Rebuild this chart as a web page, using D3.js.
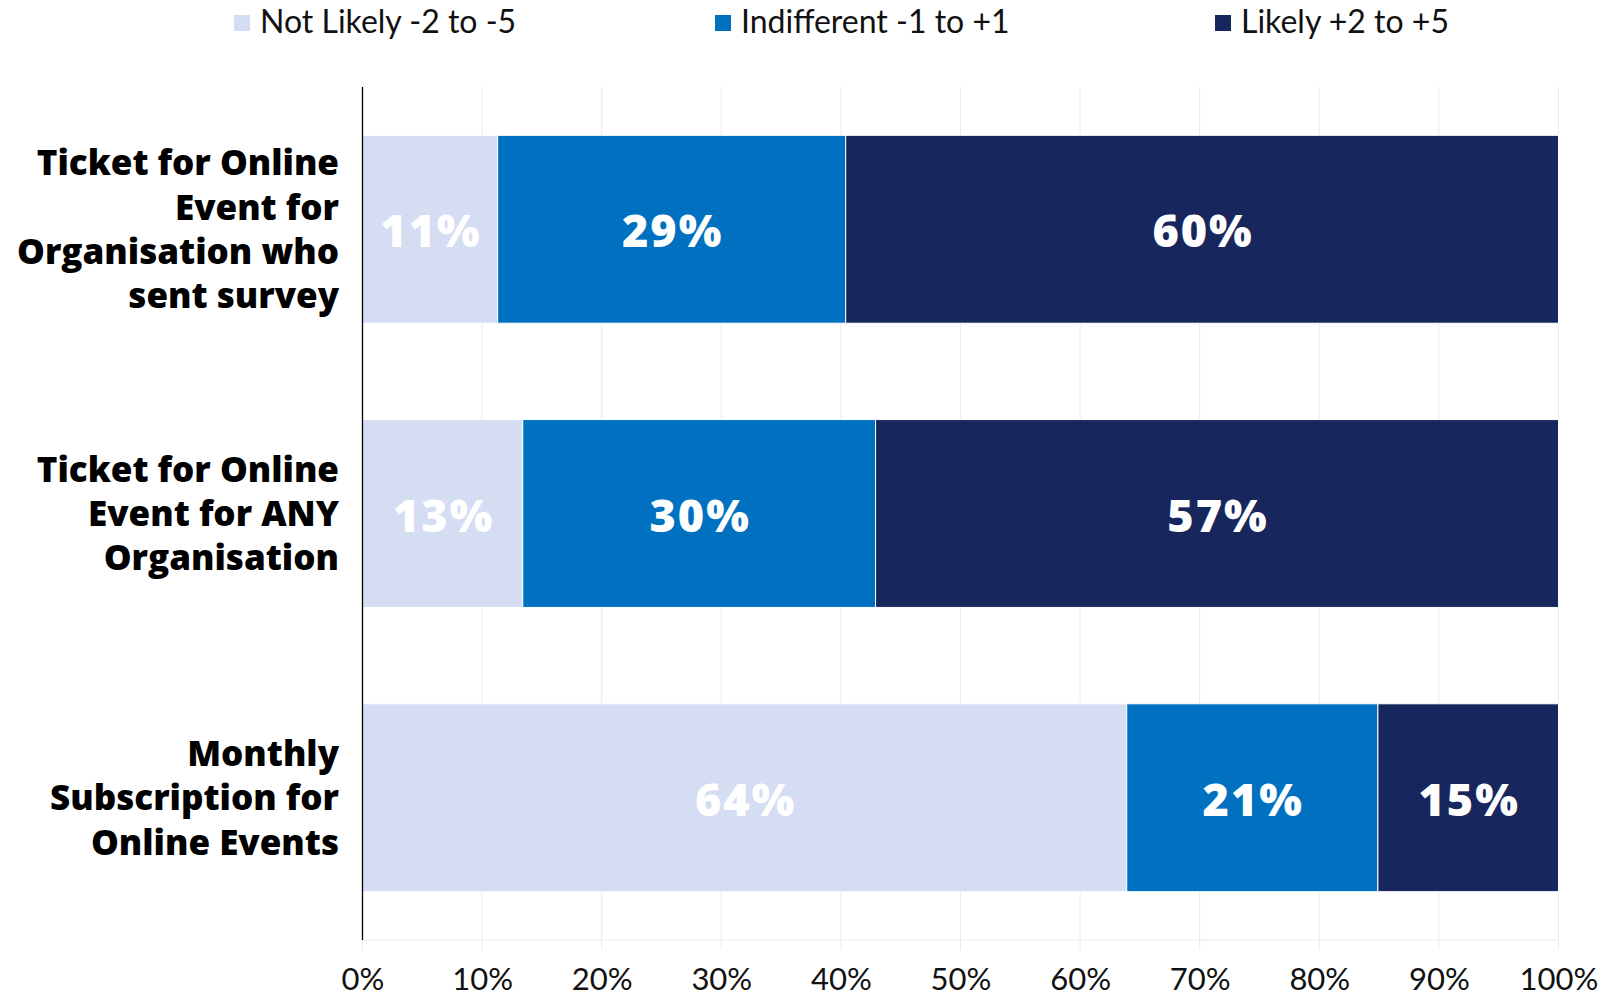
<!DOCTYPE html>
<html>
<head>
<meta charset="utf-8">
<script src="https://cdn.jsdelivr.net/npm/d3@7"></script>
<style>
  html, body { margin: 0; padding: 0; background: #fff; }
  svg { display: block; }
</style>
</head>
<body>
<svg id="chart" width="1603" height="999"></svg>
<script>
// ---- data ----
const categories = [
  "Ticket for Online\nEvent for\nOrganisation who\nsent survey",
  "Ticket for Online\nEvent for ANY\nOrganisation",
  "Monthly\nSubscription for\nOnline Events"
];
const seriesNames = ["Not Likely -2 to -5", "Indifferent -1 to +1", "Likely +2 to +5"];
const notLikely   = [11.3, 13.4, 63.9];
const indifferent = [29.1, 29.5, 21.0];
const likely      = [59.6, 57.1, 15.1];
const labelNotLikely   = ["11%", "13%", "64%"];
const labelIndifferent = ["29%", "30%", "21%"];
const labelLikely      = ["60%", "57%", "15%"];
const tickValues = [0, 10, 20, 30, 40, 50, 60, 70, 80, 90, 100];
const colors = ["#D5DDF3", "#0070C0", "#17265C"];

// ---- layout ----
const svg = d3.select("#chart");
const plotLeft = 362.5, plotRight = 1558.5, plotTop = 87, plotBottom = 940;
const FONT = "'Lato', 'Noto Sans', sans-serif";
const BOLD = "'Open Sans', 'Lato', sans-serif";

const x = d3.scaleLinear().domain([0, 100]).range([plotLeft, plotRight]);
const y = d3.scaleBand().domain(categories).range([plotTop, plotBottom]).paddingInner(0.339).paddingOuter(0.17);

const rows = categories.map((c, i) => ({
  cat: c,
  vals: [notLikely[i], indifferent[i], likely[i]],
  labels: [labelNotLikely[i], labelIndifferent[i], labelLikely[i]]
}));

// gridlines
const grid = svg.append("g");
grid.selectAll("line").data(tickValues).join("line")
  .attr("x1", d => x(d)).attr("x2", d => x(d))
  .attr("y1", plotTop).attr("y2", plotBottom + 10)
  .attr("stroke", "#EBEBEB").attr("stroke-width", 1);
svg.append("line").attr("x1", plotLeft).attr("x2", plotRight).attr("y1", plotBottom).attr("y2", plotBottom)
  .attr("stroke", "#EBEBEB").attr("stroke-width", 1);

// bars
const barG = svg.append("g");
rows.forEach(r => {
  let cum = 0;
  r.vals.forEach((v, j) => {
    const x0 = cum, x1 = cum + v;
    cum = x1;
    barG.append("rect")
      .attr("x", x(x0)).attr("width", x(x1) - x(x0))
      .attr("y", y(r.cat)).attr("height", y.bandwidth())
      .attr("fill", colors[j])
      .attr("stroke", "#fff").attr("stroke-width", 1);
    barG.append("text")
      .attr("x", (x(x0) + x(x1)) / 2 + 1)
      .attr("y", y(r.cat) + y.bandwidth() / 2 + 2)
      .attr("dy", "0.36em")
      .attr("text-anchor", "middle")
      .attr("font-family", BOLD).attr("font-weight", 800)
      .attr("font-size", 45)
      .attr("letter-spacing", 2)
      .attr("fill", "#fff")
      .text(r.labels[j]);
  });
});

// left axis line
svg.append("line").attr("x1", plotLeft).attr("x2", plotLeft).attr("y1", plotTop).attr("y2", plotBottom)
  .attr("stroke", "#000").attr("stroke-width", 1.3);

// category labels
const lineH = 44.3;
categories.forEach(c => {
  const lines = c.split("\n");
  const cy = y(c) + y.bandwidth() / 2;
  const t = svg.append("text")
    .attr("text-anchor", "end")
    .attr("font-family", BOLD).attr("font-weight", 800)
    .attr("font-size", 35).attr("fill", "#000");
  lines.forEach((ln, k) => {
    t.append("tspan").attr("x", 339)
      .attr("y", cy + (k - (lines.length - 1) / 2) * lineH)
      .attr("dy", "0.36em")
      .text(ln);
  });
});

// x axis tick labels
const xAxis = d3.axisBottom(x).tickValues(tickValues).tickFormat(d => d + "%").tickSize(0).tickPadding(0);
const ax = svg.append("g").attr("transform", `translate(0, ${plotBottom})`).call(xAxis);
ax.select(".domain").remove();
ax.selectAll("text")
  .attr("y", 50).attr("dy", 0)
  .attr("font-family", FONT).attr("font-size", 31).attr("fill", "#111");

// legend
const legendX = [234, 715, 1215];
const lg = svg.append("g");
seriesNames.forEach((n, i) => {
  lg.append("rect").attr("x", legendX[i]).attr("y", 15).attr("width", 16).attr("height", 16).attr("fill", colors[i]);
  lg.append("text").attr("x", legendX[i] + 26).attr("y", 33)
    .attr("font-family", FONT).attr("font-size", 32).attr("fill", "#111").text(n);
});
</script>
</body>
</html>
